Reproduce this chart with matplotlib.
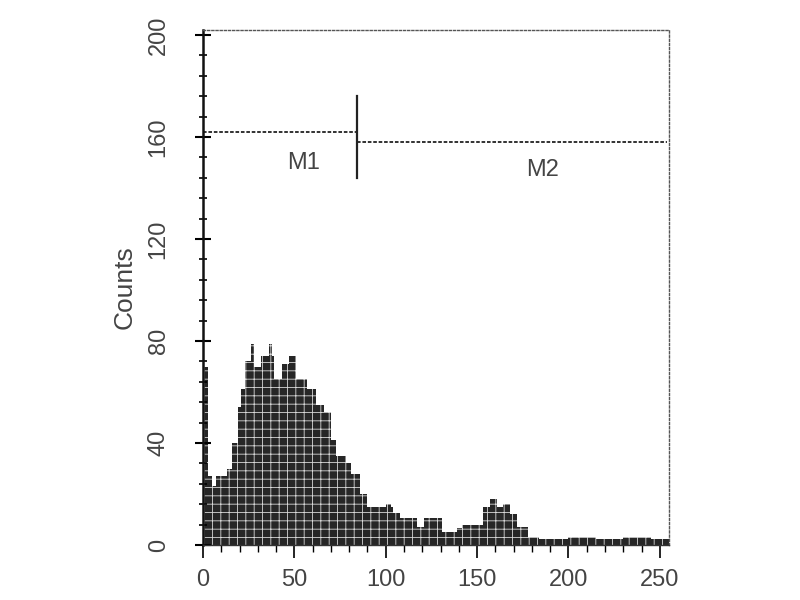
import matplotlib
matplotlib.use("Agg")
import matplotlib.pyplot as plt
import numpy as np
from matplotlib.ticker import MultipleLocator

# histogram segments: start channel and count (bin extends to next start)
bin_starts = [0, 3, 5, 7, 13, 16, 19, 21, 23, 26, 28, 32, 36, 38, 39, 43, 47, 51,
              57, 62, 66, 70, 73, 78, 81, 86, 90, 97, 100, 103, 104, 108, 117, 121,
              131, 139, 142, 153, 157, 161, 164, 168, 172, 178, 184, 200, 215, 230, 245]
counts = [70, 27, 23, 27, 30, 40, 54, 61, 72, 79, 70, 74, 79, 74, 65, 71, 74, 65,
          61, 55, 52, 41, 35, 32, 28, 20, 15, 15, 16, 15, 12.5, 10.5, 7, 10.5,
          5, 6.5, 8, 15, 18, 15, 16, 12, 7, 3, 2.5, 3, 2.5, 3, 2.5]
last_channel = 255

x_ticks = [0, 50, 100, 150, 200, 250]
y_ticks = [0, 40, 80, 120, 160, 200]
y_label = "Counts"

# markers
m1_range = (0, 84)
m1_level = 162
m2_range = (84, 254)
m2_level = 158
marker_labels = ["M1", "M2"]

widths = np.diff(bin_starts + [last_channel])

plt.rcParams['font.family'] = ['Liberation Sans', 'DejaVu Sans']
plt.rcParams['hatch.linewidth'] = 0.6

fig = plt.figure(figsize=(8, 6), dpi=100)
ax = fig.add_axes([203/800, 1-545/600, 466/800, 515/600])

ax.bar(bin_starts, counts, width=widths, align='edge', facecolor='#262626',
       edgecolor='#d8d8d8', hatch='++', linewidth=0)

ax.set_xlim(0, 255)
ax.set_ylim(0, 202)

for s in ['top', 'right']:
    ax.spines[s].set_linestyle((0, (1.5, 1.5)))
    ax.spines[s].set_color('#555555')
    ax.spines[s].set_linewidth(1.0)
ax.spines['left'].set_linewidth(1.8)
ax.spines['left'].set_color('#111111')
ax.spines['bottom'].set_linewidth(1.0)
ax.spines['bottom'].set_color('#333333')

ax.set_xticks(x_ticks)
ax.set_yticks(y_ticks)
ax.xaxis.set_minor_locator(MultipleLocator(10))
ax.yaxis.set_minor_locator(MultipleLocator(8))
ax.tick_params(axis='y', which='major', direction='inout', length=12, width=1.5,
               labelsize=17, labelcolor='#444444', pad=18, labelrotation=90)
ax.tick_params(axis='y', which='minor', direction='inout', length=6, width=1.2)
ax.tick_params(axis='x', which='major', direction='out', length=9, width=1.2,
               labelsize=17, labelcolor='#444444', pad=8)
ax.tick_params(axis='x', which='minor', direction='out', length=5, width=1.0)
for lab in ax.get_yticklabels():
    lab.set_va('center')

ax.set_ylabel(y_label, fontsize=19, color='#444444', labelpad=8)

line_kw = dict(color='#222222', linewidth=1.3, linestyle=(0, (2, 1)))
ax.plot(m1_range, [m1_level, m1_level], **line_kw)
ax.plot(m2_range, [m2_level, m2_level], **line_kw)
ax.plot([m1_range[1], m1_range[1]], [144, 176], color='#222222', linewidth=1.6)
ax.text(55, 150, marker_labels[0], fontsize=17, color='#444444', ha='center', va='center')
ax.text(186, 147, marker_labels[1], fontsize=17, color='#444444', ha='center', va='center')

fig.savefig('out.png', dpi=100)
